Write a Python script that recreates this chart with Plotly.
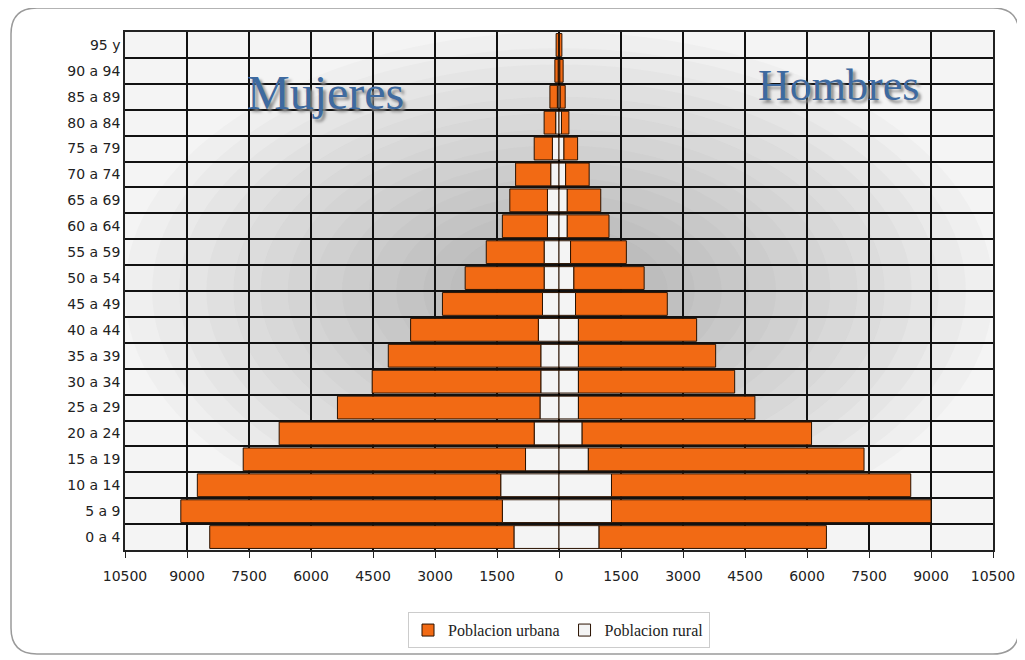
import plotly.graph_objects as go

ages = ["0 a 4", "5 a 9", "10 a 14", "15 a 19", "20 a 24", "25 a 29", "30 a 34",
        "35 a 39", "40 a 44", "45 a 49", "50 a 54", "55 a 59", "60 a 64", "65 a 69",
        "70 a 74", "75 a 79", "80 a 84", "85 a 89", "90 a 94", "95 y"]

# mujeres (left side)
mujeres_rural = [1090, 1370, 1410, 810, 600, 460, 440, 440, 500, 400,
                 360, 360, 280, 280, 200, 160, 80, 40, 20, 10]
mujeres_urbana = [7360, 7780, 7340, 6830, 6170, 4900, 4080, 3690, 3090, 2420,
                  1910, 1400, 1090, 910, 850, 440, 280, 180, 80, 60]

# hombres (right side)
hombres_rural = [970, 1270, 1270, 710, 560, 470, 470, 470, 470, 400,
                 360, 280, 200, 200, 160, 120, 60, 30, 20, 10]
hombres_urbana = [5500, 7730, 7240, 6670, 5550, 4270, 3780, 3320, 2860, 2220,
                  1700, 1350, 1010, 810, 570, 330, 180, 120, 80, 60]

tick_vals = list(range(-10500, 10501, 1500))
tick_text = [str(abs(v)) for v in tick_vals]

# page has an 8px body margin, so the figure is a bit smaller than the window
OFF = 8
W, H = 1017, 652
ML, MR, MT, MB = 117, 32, 24, 110
PW, PH = W - ML - MR, H - MT - MB

def px(x):
    return (x - OFF - ML) / PW

def py(y):
    return (H - MB - (y - OFF)) / PH

ORANGE = "#f26a14"
RURAL = "#f4f4f4"
EDGE = "#2a1200"

fig = go.Figure()
fig.add_trace(go.Bar(y=ages, x=[-v for v in mujeres_rural], orientation="h",
                     name="Poblacion rural", legendgroup="rural", legendrank=2,
                     marker=dict(color=RURAL, line=dict(color=EDGE, width=1))))
fig.add_trace(go.Bar(y=ages, x=hombres_rural, orientation="h",
                     name="Poblacion rural", legendgroup="rural", showlegend=False,
                     marker=dict(color=RURAL, line=dict(color=EDGE, width=1))))
fig.add_trace(go.Bar(y=ages, x=[-v for v in mujeres_urbana], orientation="h",
                     name="Poblacion urbana", legendgroup="urbana", legendrank=1,
                     marker=dict(color=ORANGE, line=dict(color=EDGE, width=1))))
fig.add_trace(go.Bar(y=ages, x=hombres_urbana, orientation="h",
                     name="Poblacion urbana", legendgroup="urbana", showlegend=False,
                     marker=dict(color=ORANGE, line=dict(color=EDGE, width=1))))

# soft radial shading behind the grid
shapes = []
n = 16
for i in range(n):
    f = 1 - i / n
    rx, ry = 0.5 * f, 0.5 * f
    shapes.append(dict(type="circle", xref="paper", yref="paper", layer="below",
                       x0=0.5 - rx, x1=0.5 + rx, y0=0.5 - ry, y1=0.5 + ry,
                       fillcolor="rgba(110,110,110,0.033)", line=dict(width=0)))

# rounded outer frame
x0, x1, y0, y1, r = 11, 1019, 8, 654, 26
path = (f"M {px(x0 + r)},{py(y0)} L {px(x1 - r)},{py(y0)} "
        f"Q {px(x1)},{py(y0)} {px(x1)},{py(y0 + r)} L {px(x1)},{py(y1 - r)} "
        f"Q {px(x1)},{py(y1)} {px(x1 - r)},{py(y1)} L {px(x0 + r)},{py(y1)} "
        f"Q {px(x0)},{py(y1)} {px(x0)},{py(y1 - r)} L {px(x0)},{py(y0 + r)} "
        f"Q {px(x0)},{py(y0)} {px(x0 + r)},{py(y0)} Z")
shapes.append(dict(type="path", xref="paper", yref="paper", path=path,
                   line=dict(color="#9a9a9a", width=1.5), layer="below"))

fig.update_layout(
    width=W, height=H,
    barmode="relative",
    bargap=0.12,
    paper_bgcolor="white",
    plot_bgcolor="#f4f4f4",
    margin=dict(l=ML, r=MR, t=MT, b=MB),
    shapes=shapes,
    font=dict(family="DejaVu Sans", size=13, color="#222"),
    xaxis=dict(range=[-10500, 10500], tickvals=tick_vals, ticktext=tick_text,
               automargin=False,
               showgrid=True, gridcolor="#111", gridwidth=1.5,
               zeroline=True, zerolinecolor="#000", zerolinewidth=1.5,
               showline=True, linecolor="#222", linewidth=1.5, mirror=True,
               ticks="outside", ticklen=6, tickcolor="#222", ticklabelstandoff=6,
               tickfont=dict(family="DejaVu Sans", size=14, color="#222")),
    yaxis=dict(type="category", tickson="boundaries", automargin=False,
               showgrid=True, gridcolor="#111", gridwidth=1.5,
               showline=True, linecolor="#222", linewidth=1.5, mirror=True,
               ticks="", tickfont=dict(family="DejaVu Sans", size=14, color="#222")),
    legend=dict(orientation="h", x=0.5, xanchor="center", y=-0.12, yanchor="top",
                bordercolor="#cccccc", borderwidth=1, bgcolor="white",
                font=dict(family="Liberation Serif", size=16, color="#222"),
                itemwidth=30),
    annotations=[
        dict(text="Mujeres", xref="paper", yref="paper", x=px(325), y=py(92),
             xanchor="center", yanchor="middle", showarrow=False,
             font=dict(family="Liberation Serif", size=48, color="#3e6aa0",
                       shadow="3px 3px 3px #8a8a8a")),
        dict(text="Hombres", xref="paper", yref="paper", x=px(838), y=py(85),
             xanchor="center", yanchor="middle", showarrow=False,
             font=dict(family="Liberation Serif", size=44, color="#3e6aa0",
                       shadow="3px 3px 3px #8a8a8a")),
    ],
)

fig.write_html("out.html")
